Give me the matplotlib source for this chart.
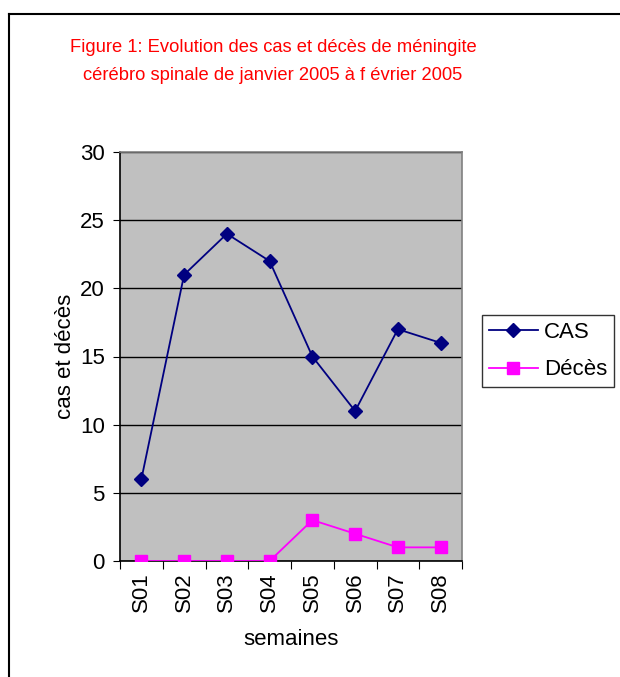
import matplotlib.pyplot as plt
from matplotlib.lines import Line2D

plt.rcParams['font.family'] = ['Liberation Sans', 'DejaVu Sans']

semaines = ['S01', 'S02', 'S03', 'S04', 'S05', 'S06', 'S07', 'S08']
cas = [6, 21, 24, 22, 15, 11, 17, 16]
deces = [0, 0, 0, 0, 3, 2, 1, 1]

W, H = 620, 677
FS = 16
fig = plt.figure(figsize=(W / 100, H / 100), dpi=100)

# cadre du graphique (haut et gauche seulement visibles)
fig.add_artist(Line2D([8.5 / W, 619 / W], [1 - 13.5 / H, 1 - 13.5 / H], color='black', lw=1.5))
fig.add_artist(Line2D([9 / W, 9 / W], [1 - 13.5 / H, 0], color='black', lw=1.5))

fig.text(273 / W, 1 - 47 / H, 'Figure 1: Evolution des cas et décès de méningite',
         color='red', fontsize=13.2, ha='center', va='center')
fig.text(273 / W, 1 - 76 / H, 'cérébro spinale de janvier 2005 à f évrier 2005',
         color='red', fontsize=13.2, ha='center', va='center')

ax = fig.add_axes([120 / W, 1 - 561 / H, 342 / W, 409 / H])
ax.set_facecolor('#C0C0C0')

x = list(range(len(semaines)))
ax.plot(x, cas, color='#000080', marker='D', markersize=7, lw=1.3, label='CAS', zorder=3)
ax.plot(x, deces, color='#FF00FF', marker='s', markersize=8, lw=1.3, label='Décès', zorder=3)

ax.set_xlim(-0.5, len(semaines) - 0.5)
ax.set_ylim(0, 30)
ax.set_yticks(range(0, 31, 5))
ax.set_yticklabels([str(v) for v in range(0, 31, 5)], fontsize=FS)
ax.set_xticks([i - 0.5 for i in range(len(semaines) + 1)])
ax.set_xticklabels([])
ax.set_xticks(x, minor=True)
ax.set_xticklabels(semaines, minor=True, rotation=90, fontsize=FS)
ax.tick_params(axis='x', which='minor', length=0, pad=8)
ax.tick_params(axis='x', which='major', length=6, direction='out', color='black')
ax.tick_params(axis='y', length=5, direction='out', pad=6)
ax.yaxis.grid(True, color='black', lw=1)
ax.set_axisbelow(True)

for s in ['top', 'right']:
    ax.spines[s].set_color('#808080')
    ax.spines[s].set_linewidth(1.2)
for s in ['left', 'bottom']:
    ax.spines[s].set_color('black')
    ax.spines[s].set_linewidth(1.2)

ax.set_xlabel('semaines', fontsize=FS, labelpad=12)
ax.set_ylabel('cas et décès', fontsize=FS, labelpad=3)

leg = ax.legend(loc='center left', bbox_to_anchor=(482 / W, 1 - 351 / H),
                bbox_transform=fig.transFigure, borderaxespad=0, fontsize=FS,
                frameon=True, fancybox=False, edgecolor='black', handlelength=2.2,
                handletextpad=0.3, borderpad=0.3, labelspacing=0.75)
leg.get_frame().set_linewidth(1)

fig.savefig('out.png', dpi=100, facecolor='white')
